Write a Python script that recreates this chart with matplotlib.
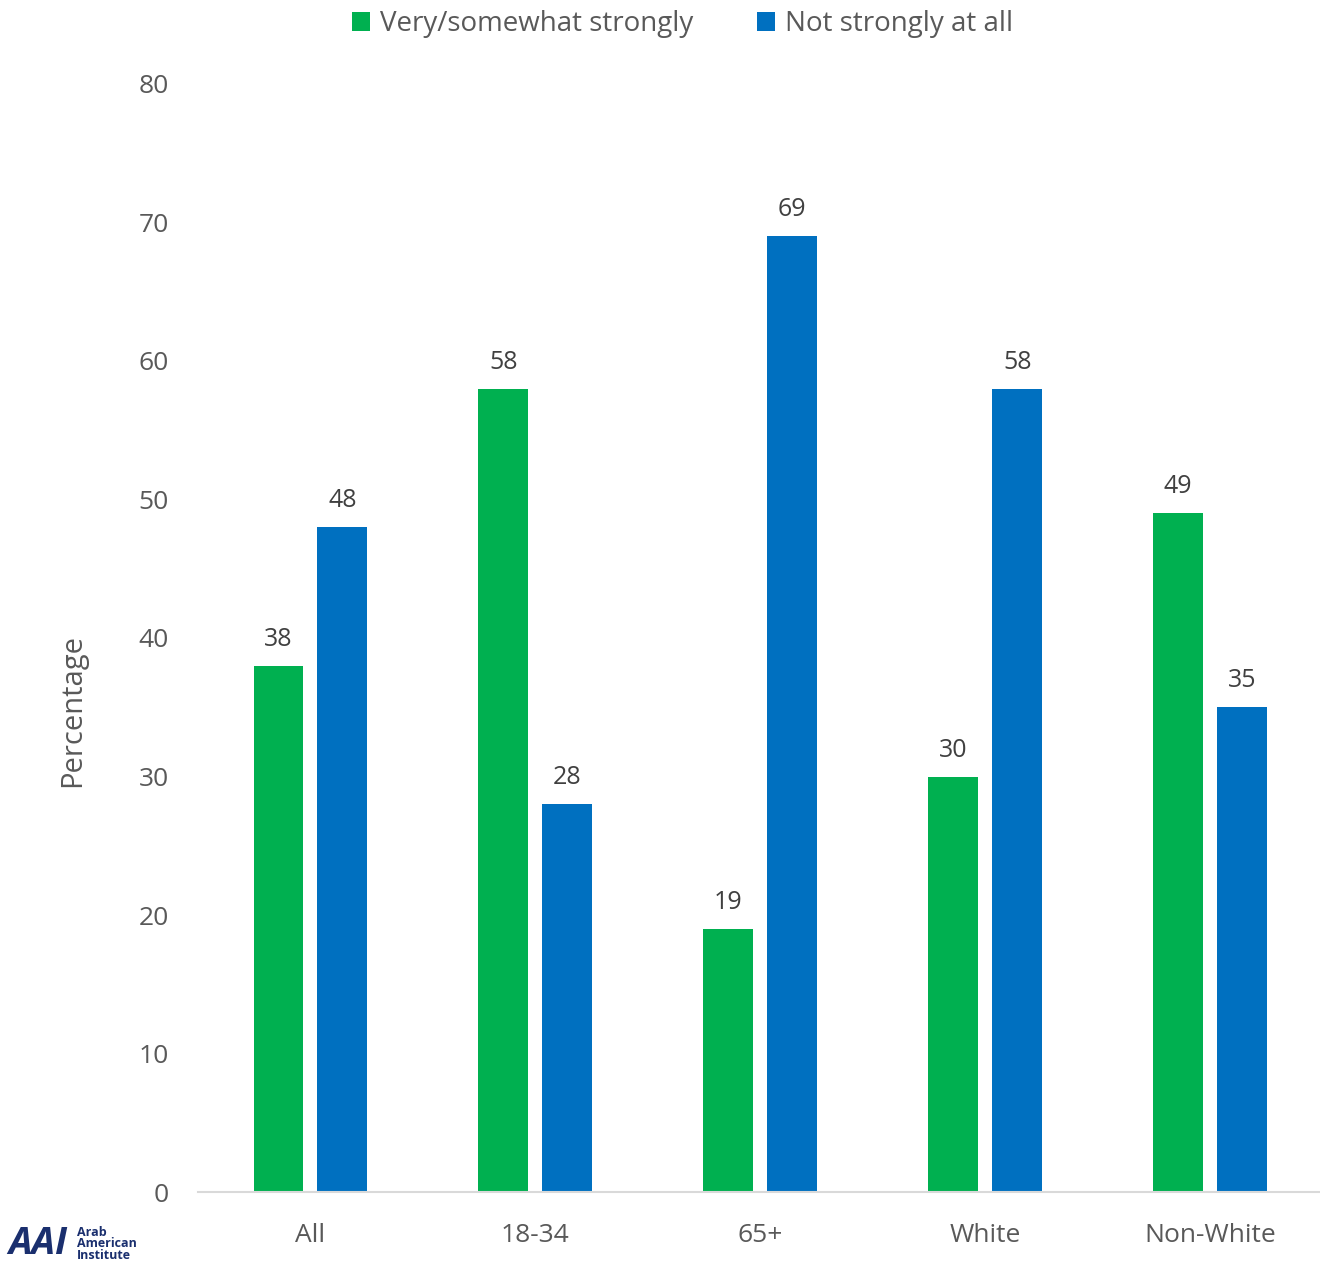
import matplotlib
matplotlib.use("Agg")
import matplotlib.pyplot as plt
import numpy as np

categories = ["All", "18-34", "65+", "White", "Non-White"]
series_names = ["Very/somewhat strongly", "Not strongly at all"]
strongly = [38, 58, 19, 30, 49]
not_strongly = [48, 28, 69, 58, 35]
yticks = [0, 10, 20, 30, 40, 50, 60, 70, 80]

green = "#00b050"
blue = "#0070c0"
gray = "#595959"

plt.rcParams['font.family'] = ['Open Sans', 'DejaVu Sans']

fig = plt.figure(figsize=(13.2, 12.68), dpi=100)
ax = fig.add_axes([0.15, 0.0599, 0.852, 0.8739])

x = np.arange(len(categories))
w = 0.222
off = 0.142
b1 = ax.bar(x - off, strongly, w, color=green, label=series_names[0])
b2 = ax.bar(x + off, not_strongly, w, color=blue, label=series_names[1])

for bars, vals in ((b1, strongly), (b2, not_strongly)):
    for r, v in zip(bars, vals):
        ax.text(r.get_x() + r.get_width() / 2, v + 1.0, str(v), ha='center', va='bottom',
                fontsize=18, color="#404040")

ax.set_xlim(-0.5, len(categories) - 0.5)
ax.set_ylim(0, 80)
ax.set_yticks(yticks)
ax.set_xticks(x)
ax.set_xticklabels(categories)
ax.tick_params(axis='both', length=0, labelsize=19, colors=gray)
ax.tick_params(axis='y', pad=21)
ax.tick_params(axis='x', pad=22)
for s in ('top', 'right', 'left'):
    ax.spines[s].set_visible(False)
ax.spines['bottom'].set_color('#d9d9d9')
ax.spines['bottom'].set_linewidth(1.5)

ax.set_ylabel("Percentage", fontsize=21, color=gray)
ax.yaxis.set_label_coords(-0.099, 0.435)

leg = fig.legend(handles=[b1, b2], labels=series_names, loc='center', bbox_to_anchor=(0.517, 0.981),
                 ncol=2, frameon=False, fontsize=20, handlelength=0.65, handleheight=0.65,
                 columnspacing=2.3, handletextpad=0.35)
for t in leg.get_texts():
    t.set_color(gray)

# logo
fig.text(0.006, 0.019, "AAI", fontsize=27, fontweight='bold', color="#1a2f6e",
         ha='left', va='center', fontstyle='italic')
fig.text(0.058, 0.019, "Arab\nAmerican\nInstitute", fontsize=9, fontweight='bold', color="#1a2f6e",
         ha='left', va='center', linespacing=0.85)

fig.savefig("out.png", dpi=100)
